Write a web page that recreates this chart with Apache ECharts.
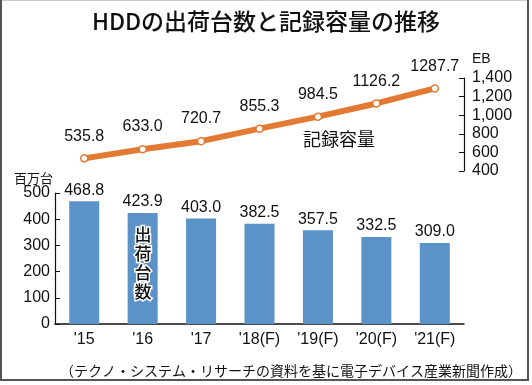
<!DOCTYPE html>
<html><head><meta charset="utf-8">
<script src="https://cdn.jsdelivr.net/npm/echarts@6/dist/echarts.min.js"></script>
<style>html,body{margin:0;padding:0;background:#fff}#c{width:532px;height:385px}</style>
</head><body><div id="c"></div>
<script>
const categories = ["'15", "'16", "'17", "'18(F)", "'19(F)", "'20(F)", "'21(F)"];
const shipments = [468.8, 423.9, 403.0, 382.5, 357.5, 332.5, 309.0];
const capacity = [535.8, 633.0, 720.7, 855.3, 984.5, 1126.2, 1287.7];
const leftTicks = {min: 0, max: 500, interval: 100};
const rightTicks = {min: 400, max: 1400, interval: 200};

const FONT = "'Liberation Sans', 'Noto Sans CJK JP', sans-serif";
const JP = "'Noto Sans CJK JP', sans-serif";
const BAR = '#5b93c9';
const LINE = '#e27a33';
const TXT = '#111';

const chart = echarts.init(document.getElementById('c'), null, {renderer: 'canvas'});
chart.setOption({
  animation: false,
  backgroundColor: '#fff',
  title: {
    text: 'HDDの出荷台数と記録容量の推移',
    left: 'center', top: 5,
    textStyle: {fontFamily: JP, fontSize: 23, fontWeight: 500, color: TXT}
  },
  grid: [
    {left: 55, right: 68, top: 193, bottom: 61},
    {left: 55, right: 68, top: 78, height: 93}
  ],
  xAxis: [
    {type: 'category', gridIndex: 0, data: categories,
     axisLine: {lineStyle: {color: TXT, width: 1.5}},
     axisTick: {show: false},
     axisLabel: {color: TXT, fontSize: 16, fontFamily: FONT, margin: 8}},
    {type: 'category', gridIndex: 1, data: categories, show: false}
  ],
  yAxis: [
    {type: 'value', gridIndex: 0, min: leftTicks.min, max: leftTicks.max, interval: leftTicks.interval,
     name: '百万台', nameLocation: 'end', nameGap: 8,
     nameTextStyle: {fontFamily: JP, fontSize: 13, color: TXT, align: 'right', padding: [0, 2, 0, 0]},
     axisLine: {show: true, lineStyle: {color: TXT, width: 1.2}},
     axisTick: {show: true, inside: true, length: 5, lineStyle: {color: TXT}},
     axisLabel: {color: TXT, fontSize: 16, fontFamily: FONT, margin: 5},
     splitLine: {show: false}},
    {type: 'value', gridIndex: 1, position: 'right', min: rightTicks.min, max: rightTicks.max, interval: rightTicks.interval,
     name: 'EB', nameLocation: 'end', nameGap: 12,
     nameTextStyle: {fontFamily: FONT, fontSize: 14, color: TXT, align: 'left', padding: [0, 0, 0, 8]},
     axisLine: {show: true, lineStyle: {color: TXT, width: 1.2}},
     axisTick: {show: true, inside: true, length: 5, lineStyle: {color: TXT}},
     axisLabel: {color: TXT, fontSize: 16, fontFamily: FONT, margin: 8,
       formatter: v => v.toLocaleString('en-US')},
     splitLine: {show: false}}
  ],
  series: [
    {type: 'bar', xAxisIndex: 0, yAxisIndex: 0, data: shipments, barWidth: 30,
     itemStyle: {color: BAR},
     label: {show: true, position: 'top', distance: 3, color: TXT, fontSize: 16, fontFamily: FONT,
       formatter: p => p.value.toFixed(1)}},
    {type: 'line', xAxisIndex: 1, yAxisIndex: 1, data: capacity,
     lineStyle: {color: LINE, width: 6},
     symbol: 'circle', symbolSize: 7,
     itemStyle: {color: '#fff', borderColor: LINE, borderWidth: 1.5},
     label: {show: true, position: 'top', distance: 10, color: TXT, fontSize: 16, fontFamily: FONT,
       formatter: p => p.value.toFixed(1)}}
  ],
  graphic: [
    {type: 'text', left: 303, top: 130, z: 100,
     style: {text: '記録容量', fontFamily: JP, fontSize: 18, fill: TXT}},
    {type: 'text', x: 143, y: 263, z: 100,
     style: {text: '出\n荷\n台\n数', fontFamily: JP, fontSize: 17, fontWeight: 500, lineHeight: 19,
       fill: '#111', stroke: '#fff', lineWidth: 3, align: 'center', verticalAlign: 'middle'}},
    {type: 'text', right: 10, top: 364, z: 100,
     style: {text: '（テクノ・システム・リサーチの資料を基に電子デバイス産業新聞作成）', fontFamily: JP, fontSize: 14, fill: TXT}},
    {type: 'line', z: 100, shape: {x1: 1, y1: 0.5, x2: 528, y2: 0.5}, style: {stroke: '#ccc', lineWidth: 1}},
    {type: 'line', z: 100, shape: {x1: 1, y1: 0, x2: 1, y2: 381}, style: {stroke: '#555', lineWidth: 2}},
    {type: 'line', z: 100, shape: {x1: 528, y1: 0, x2: 528, y2: 381}, style: {stroke: '#555', lineWidth: 2}},
    {type: 'line', z: 100, shape: {x1: 0, y1: 380, x2: 529, y2: 380}, style: {stroke: '#555', lineWidth: 2}}
  ]
});
</script></body></html>
